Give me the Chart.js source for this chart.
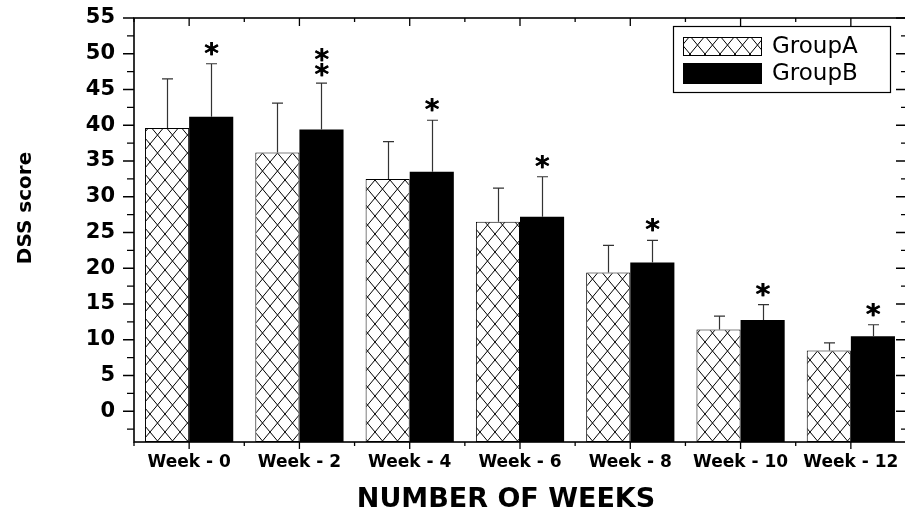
<!DOCTYPE html>
<html><head><meta charset="utf-8">
<script src="https://cdn.jsdelivr.net/npm/chart.js@4.4.1/dist/chart.umd.min.js"></script>
<style>html,body{margin:0;padding:0;overflow:hidden;background:#fff}</style>
</head><body>
<canvas id="c" width="910" height="516" style="display:block;width:910px;height:516px"></canvas>
<script>
const categories = ['Week - 0','Week - 2','Week - 4','Week - 6','Week - 8','Week - 10','Week - 12'];
const groupA = [39.6, 36.2, 32.5, 26.5, 19.4, 11.45, 8.5];
const groupAErr = [6.9, 6.9, 5.2, 4.7, 3.8, 1.85, 1.05];
const groupB = [41.2, 39.4, 33.5, 27.2, 20.8, 12.75, 10.5];
const groupBErr = [7.4, 6.5, 7.2, 5.6, 3.1, 2.15, 1.6];
const starsB = [1, 2, 1, 1, 1, 1, 1];
const yTickValues = [0, 5, 10, 15, 20, 25, 30, 35, 40, 45, 50, 55];
const yMin = -4.3, yMax = 55;
const seriesNames = ['GroupA', 'GroupB'];
const xTitle = 'NUMBER OF WEEKS';
const yTitle = 'DSS score';

function makeHatch() {
  const w = 15, h = 18;
  const c = document.createElement('canvas');
  c.width = w; c.height = h;
  const g = c.getContext('2d');
  g.fillStyle = '#fff'; g.fillRect(0, 0, w, h);
  g.strokeStyle = '#000'; g.lineWidth = 1;
  g.beginPath();
  g.moveTo(-w, -h); g.lineTo(2 * w, 2 * h);
  g.moveTo(2 * w, -h); g.lineTo(-w, 2 * h);
  g.stroke();
  return document.getElementById('c').getContext('2d').createPattern(c, 'repeat');
}
const hatch = makeHatch();
const errs = [groupAErr, groupBErr];

const deco = {
  id: 'deco',
  afterDatasetsDraw(chart) {
    const { ctx, chartArea: a, scales: { x, y } } = chart;
    ctx.save();
    // error bars
    ctx.strokeStyle = '#333'; ctx.lineWidth = 1.2;
    chart.data.datasets.forEach((ds, di) => {
      const meta = chart.getDatasetMeta(di);
      meta.data.forEach((bar, i) => {
        const yv = y.getPixelForValue(ds.data[i]);
        const yt = y.getPixelForValue(ds.data[i] + errs[di][i]);
        const bx = Math.round(bar.x) + 0.5;
        ctx.beginPath();
        ctx.moveTo(bx, yv); ctx.lineTo(bx, yt);
        ctx.moveTo(bx - 5.5, yt); ctx.lineTo(bx + 5.5, yt);
        ctx.stroke();
      });
    });
    // stars
    ctx.fillStyle = '#000';
    ctx.font = 'bold 28px "DejaVu Sans"';
    ctx.textAlign = 'center'; ctx.textBaseline = 'alphabetic';
    const m = ctx.measureText('*');
    const mid = (m.actualBoundingBoxAscent - m.actualBoundingBoxDescent) / 2;
    const metaB = chart.getDatasetMeta(1);
    metaB.data.forEach((bar, i) => {
      const yt = y.getPixelForValue(groupB[i] + groupBErr[i]);
      const offs = starsB[i] === 2 ? [13, 28] : [15];
      offs.forEach(o => {
        ctx.fillText('*', bar.x, yt - o + mid);
        ctx.fillText('*', bar.x + 0.6, yt - o + mid);
      });
    });
    // frame
    ctx.strokeStyle = '#000'; ctx.lineWidth = 1.6;
    ctx.strokeRect(a.left, a.top, a.right - a.left, a.bottom - a.top);
    // y ticks
    ctx.lineWidth = 1.3;
    ctx.beginPath();
    yTickValues.forEach(v => {
      const p = y.getPixelForValue(v);
      ctx.moveTo(a.left - 11, p); ctx.lineTo(a.left, p);
      ctx.moveTo(a.right - 10, p); ctx.lineTo(a.right, p);
    });
    for (let v = -2.5; v < yMax; v += 5) {
      const p = y.getPixelForValue(v);
      ctx.moveTo(a.left - 7, p); ctx.lineTo(a.left, p);
      ctx.moveTo(a.right - 5, p); ctx.lineTo(a.right, p);
    }
    // x ticks
    categories.forEach((c, i) => {
      const p = x.getPixelForValue(i);
      ctx.moveTo(p, a.bottom); ctx.lineTo(p, a.bottom + 7);
      ctx.moveTo(p, a.top); ctx.lineTo(p, a.top + 8);
    });
    for (let i = 0; i <= categories.length; i++) {
      const p = x.getPixelForValue(i - 0.5);
      ctx.moveTo(p, a.bottom); ctx.lineTo(p, a.bottom + 4);
      ctx.moveTo(p, a.top); ctx.lineTo(p, a.top + 4);
    }
    ctx.stroke();
    // legend
    const lw = 217, lh = 66;
    const lx = a.right - 16 - lw, ly = a.top + 8;
    ctx.fillStyle = '#fff';
    ctx.fillRect(lx, ly, lw, lh);
    ctx.lineWidth = 1.2; ctx.strokeStyle = '#000';
    ctx.strokeRect(lx + 0.5, ly + 0.5, lw, lh);
    ctx.fillStyle = hatch;
    ctx.fillRect(lx + 10, ly + 11, 79, 19);
    ctx.lineWidth = 1;
    ctx.strokeRect(lx + 10.5, ly + 11.5, 78, 18);
    ctx.fillStyle = '#000';
    ctx.fillRect(lx + 10, ly + 37, 79, 21);
    ctx.font = '23px "DejaVu Sans"';
    ctx.textAlign = 'left'; ctx.textBaseline = 'middle';
    ctx.fillText(seriesNames[0], lx + 99, ly + 21);
    ctx.fillText(seriesNames[1], lx + 99, ly + 48);
    // axis titles
    ctx.font = 'bold 27px "DejaVu Sans"';
    ctx.textAlign = 'center'; ctx.textBaseline = 'middle';
    ctx.fillText(xTitle, 506, 500);
    ctx.save();
    ctx.translate(26, 208);
    ctx.rotate(-Math.PI / 2);
    ctx.font = 'bold 20px "DejaVu Sans"';
    ctx.fillText(yTitle, 0, 0);
    ctx.restore();
    ctx.restore();
  }
};

new Chart(document.getElementById('c'), {
  type: 'bar',
  data: {
    labels: categories,
    datasets: [
      { label: seriesNames[0], data: groupA, base: yMin, backgroundColor: hatch, borderColor: '#000', borderWidth: 1, borderSkipped: false },
      { label: seriesNames[1], data: groupB, base: yMin, backgroundColor: '#000', borderColor: '#000', borderWidth: 0 }
    ]
  },
  options: {
    responsive: false,
    animation: false,
    events: [],
    layout: { padding: { top: 18, right: 4, left: 0, bottom: 0 } },
    datasets: { bar: { categoryPercentage: 0.8, barPercentage: 1.0 } },
    plugins: { legend: { display: false }, tooltip: { enabled: false }, title: { display: false } },
    scales: {
      x: {
        type: 'category',
        offset: true,
        grid: { display: false, drawTicks: false },
        border: { display: false },
        ticks: { color: '#000', font: { family: 'DejaVu Sans', weight: 'bold', size: 17 }, padding: 10, maxRotation: 0, autoSkip: false },
        afterFit(s) { s.height = 74; s.paddingLeft = 0; s.paddingRight = 0; }
      },
      y: {
        min: yMin, max: yMax,
        grid: { display: false, drawTicks: false },
        border: { display: false },
        afterBuildTicks(s) { s.ticks = yTickValues.map(v => ({ value: v })); },
        ticks: { color: '#000', font: { family: 'DejaVu Sans', weight: 'bold', size: 21 }, padding: 19 },
        afterFit(s) { s.width = 134; s.paddingTop = 0; s.paddingBottom = 0; }
      }
    }
  },
  plugins: [deco]
});
</script>
</body></html>
